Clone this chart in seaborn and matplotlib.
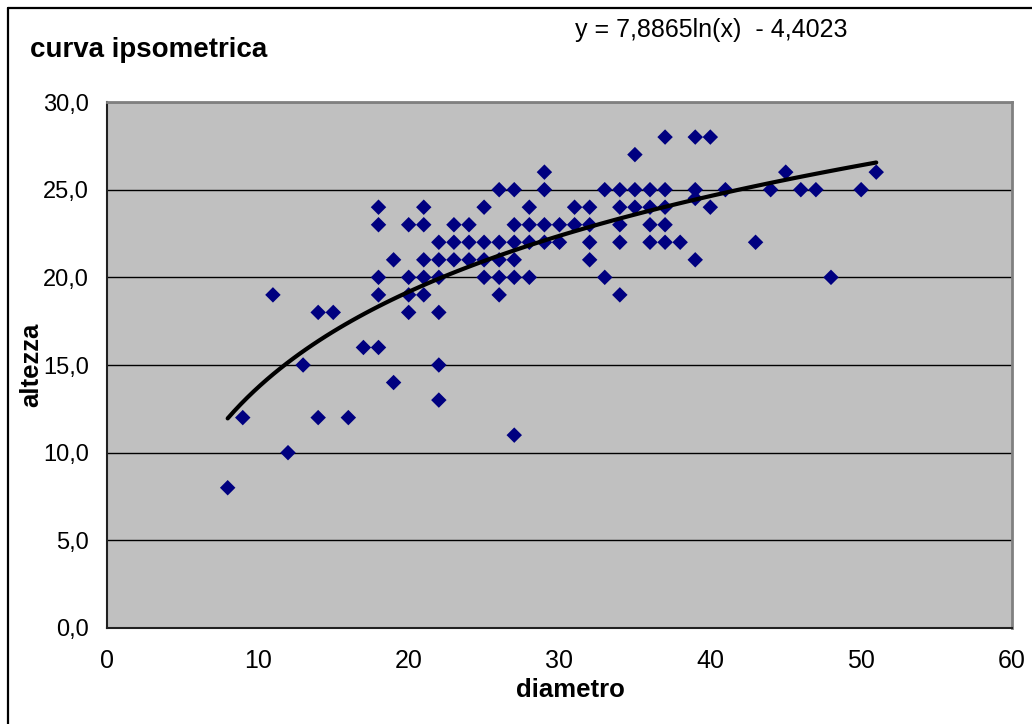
import matplotlib
matplotlib.use("Agg")
import matplotlib.pyplot as plt
from matplotlib.lines import Line2D
from matplotlib.ticker import FuncFormatter, MultipleLocator
import seaborn as sns
import pandas as pd

# %%
# data (diameter in cm, height in m)
diametro = [8, 9, 11, 12, 13, 14, 14, 15, 16, 17,
            18, 18, 18, 18, 18, 19, 19, 20, 20, 20, 20,
            21, 21, 21, 21, 21, 22, 22, 22, 22, 22, 22,
            23, 23, 23, 24, 24, 24, 25, 25, 25, 25,
            26, 26, 26, 26, 26, 27, 27, 27, 27, 27, 27,
            28, 28, 28, 28, 29, 29, 29, 29, 30, 30, 31, 31,
            32, 32, 32, 32, 33, 33, 34, 34, 34, 34, 34,
            35, 35, 35, 36, 36, 36, 36, 37, 37, 37, 37, 37,
            38, 39, 39, 39, 39, 40, 40, 41, 43, 44, 45, 46, 47, 48, 50, 51]
altezza = [8, 12, 19, 10, 15, 18, 12, 18, 12, 16,
           16, 24, 23, 20, 19, 21, 14, 23, 20, 19, 18,
           24, 23, 21, 20, 19, 22, 21, 20, 18, 15, 13,
           23, 22, 21, 23, 22, 21, 24, 22, 21, 20,
           25, 22, 21, 20, 19, 25, 23, 22, 21, 20, 11,
           24, 23, 22, 20, 26, 25, 23, 22, 23, 22, 24, 23,
           24, 23, 22, 21, 25, 20, 25, 24, 23, 22, 19,
           27, 25, 24, 25, 24, 23, 22, 28, 25, 24, 23, 22,
           22, 28, 25, 24.5, 21, 28, 24, 25, 22, 25, 26, 25, 25, 20, 25, 26]

equation_label = "y = 7,8865ln(x)  - 4,4023"

df = pd.DataFrame({"diametro": diametro, "altezza": altezza})

# %%
sns.set_style("white", {"axes.facecolor": "#C0C0C0"})
plt.rcParams["font.family"] = ["Liberation Sans", "DejaVu Sans"]
plt.rcParams["text.color"] = "black"
plt.rcParams["axes.labelcolor"] = "black"
plt.rcParams["xtick.color"] = "black"
plt.rcParams["ytick.color"] = "black"

fig = plt.figure(figsize=(10.32, 7.24), dpi=100)
ax = fig.add_axes([0.1037, 0.1326, 0.8769, 0.7265])

# log trend line (same model as the excel trendline)
sns.regplot(
    data=df,
    x="diametro",
    y="altezza",
    logx=True,
    ci=None,
    scatter=False,
    color="black",
    line_kws={"linewidth": 3.0, "solid_capstyle": "round", "zorder": 4},
    ax=ax,
)

sns.scatterplot(
    data=df,
    x="diametro",
    y="altezza",
    marker="D",
    s=62,
    color="#000080",
    edgecolor="none",
    linewidth=0,
    zorder=3,
    ax=ax,
)

ax.set_xlim(0, 60)
ax.set_ylim(0, 30)
ax.xaxis.set_major_locator(MultipleLocator(10))
ax.yaxis.set_major_locator(MultipleLocator(5))
ax.yaxis.set_major_formatter(FuncFormatter(lambda v, p: f"{v:.1f}".replace(".", ",")))

# horizontal gridlines only
ax.grid(axis="y", color="black", linewidth=1)
ax.grid(axis="x", visible=False)
ax.set_axisbelow(True)

ax.tick_params(axis="both", direction="out", length=7, width=1, color="black",
               labelsize=17, pad=6)
ax.tick_params(axis="x", labelsize=18, pad=8)

for side in ["top", "right"]:
    ax.spines[side].set_color("#808080")
    ax.spines[side].set_linewidth(2)
for side in ["left", "bottom"]:
    ax.spines[side].set_color("#202020")
    ax.spines[side].set_linewidth(1.5)

ax.set_xlabel("diametro", fontsize=18.5, fontweight="bold")
ax.set_ylabel("altezza", fontsize=18.5, fontweight="bold")
ax.xaxis.set_label_coords(0.512, -0.096)
ax.yaxis.set_label_coords(-0.071, 0.5)

fig.text(30 / 1032, 1 - 50 / 724, "curva ipsometrica", fontsize=20,
         fontweight="bold", ha="left", va="center")
fig.text(575 / 1032, 1 - 30 / 724, equation_label, fontsize=18,
         ha="left", va="center")

# outer chart border (only top and left visible in the crop)
fig.add_artist(Line2D([8 / 1032, 8 / 1032], [0, 1 - 8 / 724],
                      transform=fig.transFigure, color="black", linewidth=1.6))
fig.add_artist(Line2D([8 / 1032, 1], [1 - 8 / 724, 1 - 8 / 724],
                      transform=fig.transFigure, color="black", linewidth=1.6))

plt.savefig("out.png", dpi=100)
